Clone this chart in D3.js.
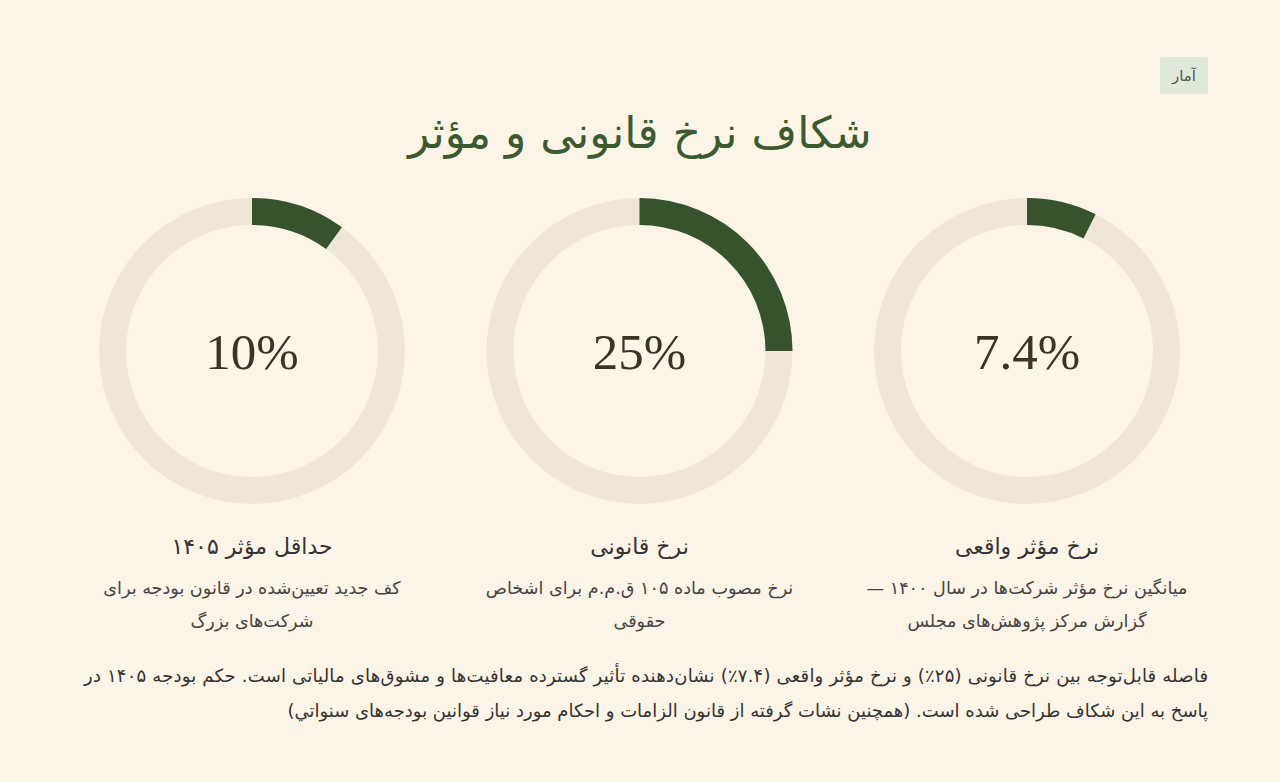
<!DOCTYPE html>
<html><head><meta charset="utf-8">
<script src="https://cdn.jsdelivr.net/npm/d3@7"></script>
<style>
html,body{margin:0;padding:0;background:#fcf4e6;}
svg{display:block;}
</style></head>
<body>
<svg id="chart" width="1280" height="782"></svg>
<script>
const badgeLabel = "آمار";
const chartTitle = "شکاف نرخ قانونی و مؤثر";
const categories = ["نرخ مؤثر واقعی", "نرخ قانونی", "حداقل مؤثر ۱۴۰۵"];
const values = [7.4, 25, 10];
const valueLabels = ["7.4%", "25%", "10%"];
const descriptions = [
  ["میانگین نرخ مؤثر شرکت‌ها در سال ۱۴۰۰ —", "گزارش مرکز پژوهش‌های مجلس"],
  ["نرخ مصوب ماده ۱۰۵ ق.م.م برای اشخاص", "حقوقی"],
  ["کف جدید تعیین‌شده در قانون بودجه برای", "شرکت‌های بزرگ"]
];
const footerLines = [
  "فاصله قابل‌توجه بین نرخ قانونی (۲۵٪) و نرخ مؤثر واقعی (۷.۴٪) نشان‌دهنده تأثیر گسترده معافیت‌ها و مشوق‌های مالیاتی است. حکم بودجه ۱۴۰۵ در",
  "پاسخ به این شکاف طراحی شده است. (همچنین نشات گرفته از قانون الزامات و احکام مورد نیاز قوانین بودجه‌های سنواتي)"
];

const svg = d3.select("#chart");
const W = 1280;
const faFont = "'DejaVu Sans', 'Noto Sans', sans-serif";
svg.append("rect").attr("width", W).attr("height", 782).attr("fill", "#fcf4e6");

// badge
svg.append("rect").attr("x", 1160).attr("y", 57).attr("width", 48).attr("height", 37).attr("rx", 2).attr("fill", "#e0e9d9");
svg.append("text").attr("x", 1184).attr("y", 81).attr("text-anchor", "middle")
  .attr("font-family", faFont).attr("font-size", 15).attr("fill", "#555").text(badgeLabel);

// title
svg.append("text").attr("x", 640).attr("y", 148).attr("text-anchor", "middle").attr("direction", "rtl")
  .attr("font-family", faFont).attr("font-size", 44).attr("fill", "#3b5a2f").text(chartTitle);

// rings
const x = d3.scalePoint().domain(categories).range([1027, 252]);
const angle = d3.scaleLinear().domain([0, 100]).range([0, 2 * Math.PI]);
const rOuter = 153, rInner = 126, cy = 351;
const arc = d3.arc().innerRadius(rInner).outerRadius(rOuter);

const g = svg.selectAll("g.ring").data(categories).join("g").attr("class", "ring")
  .attr("transform", d => `translate(${x(d)},${cy})`);
g.append("path").attr("d", arc({startAngle: 0, endAngle: 2 * Math.PI})).attr("fill", "#f0e6d7");
g.append("path").attr("d", (d, i) => arc({startAngle: 0, endAngle: angle(values[i])})).attr("fill", "#36532d");
g.append("text").attr("y", 18).attr("text-anchor", "middle")
  .attr("font-family", "'Liberation Serif', 'DejaVu Serif', serif").attr("font-size", 51).attr("fill", "#3a3428")
  .text((d, i) => valueLabels[i]);

// labels
categories.forEach((c, i) => {
  svg.append("text").attr("x", x(c)).attr("y", 554).attr("text-anchor", "middle").attr("direction", "rtl")
    .attr("font-family", faFont).attr("font-size", 22).attr("fill", "#333").text(c);
  descriptions[i].forEach((line, j) => {
    svg.append("text").attr("x", x(c)).attr("y", 594 + j * 33).attr("text-anchor", "middle").attr("direction", "rtl")
      .attr("font-family", faFont).attr("font-size", 17.6).attr("fill", "#444").text(line);
  });
});

// footer
footerLines.forEach((line, j) => {
  const t = svg.append("text").attr("x", 1208).attr("y", 682 + j * 35).attr("text-anchor", "start").attr("direction", "rtl")
    .attr("font-family", faFont).attr("font-size", 18).attr("fill", "#333").text(line);
  if (j === 0) t.attr("textLength", 1124).attr("lengthAdjust", "spacing");
});
</script>
</body></html>
